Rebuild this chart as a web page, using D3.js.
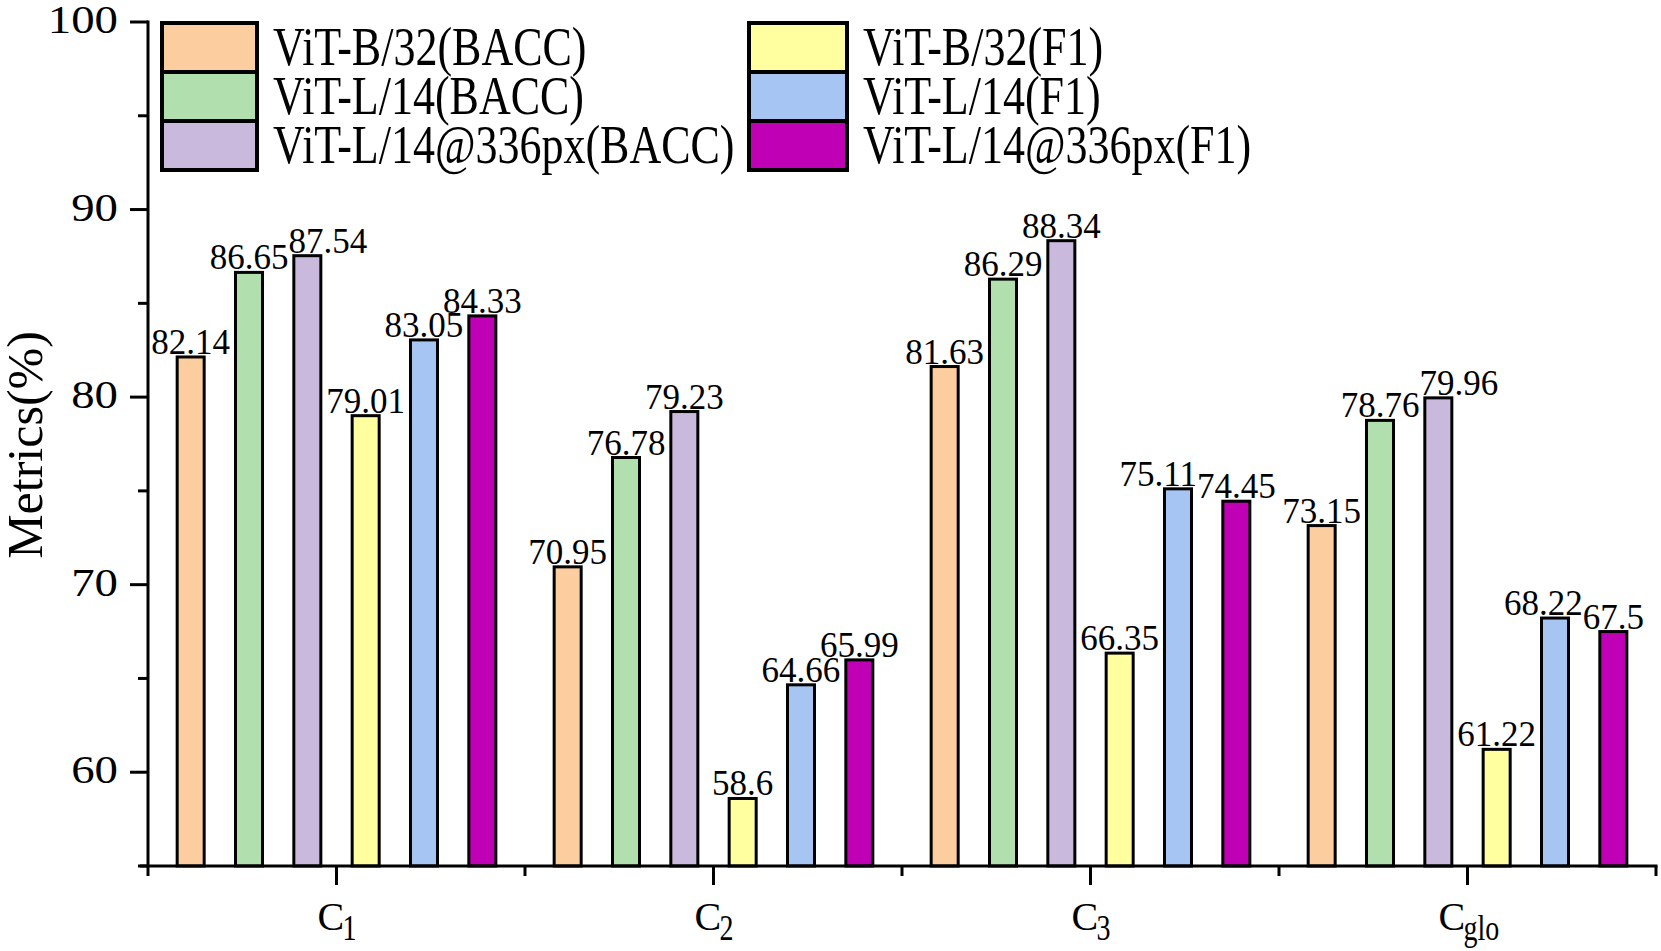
<!DOCTYPE html>
<html>
<head>
<meta charset="utf-8">
<script src="https://cdn.jsdelivr.net/npm/d3@7"></script>
<style>
  body { margin: 0; background: #fff; }
  svg { display: block; }
  text { font-family: "Liberation Serif", "Times New Roman", serif; fill: #000; }
</style>
</head>
<body>
<svg id="chart" width="1661" height="951"></svg>
<script>
var categories = ["C1", "C2", "C3", "Cglo"];
var catMain = ["C", "C", "C", "C"];
var catSub = ["1", "2", "3", "glo"];
var seriesNames = ["ViT-B/32(BACC)", "ViT-L/14(BACC)", "ViT-L/14@336px(BACC)",
                   "ViT-B/32(F1)", "ViT-L/14(F1)", "ViT-L/14@336px(F1)"];
var seriesColors = ["#fccd9f", "#b1e0ae", "#c9b9dc", "#ffffa0", "#a6c5f2", "#c000b5"];
var vitB32Bacc = [82.14, 70.95, 81.63, 73.15];
var vitL14Bacc = [86.65, 76.78, 86.29, 78.76];
var vitL14pxBacc = [87.54, 79.23, 88.34, 79.96];
var vitB32F1 = [79.01, 58.6, 66.35, 61.22];
var vitL14F1 = [83.05, 64.66, 75.11, 68.22];
var vitL14pxF1 = [84.33, 65.99, 74.45, 67.5];
var yTicks = [60, 70, 80, 90, 100];
var yMinorTicks = [55, 65, 75, 85, 95];

function draw() {
	var values = [vitB32Bacc, vitL14Bacc, vitL14pxBacc, vitB32F1, vitL14F1, vitL14pxF1];

	var svg = d3.select("#chart");
	var pLeft = 148, pRight = 1656, pTop = 22, pBottom = 866;

	var x0 = d3.scaleBand().domain(categories).range([pLeft, pRight]);
	var x1 = d3.scaleBand().domain(d3.range(seriesNames.length))
		.range([0, x0.bandwidth()])
		.paddingInner(0.537)
		.paddingOuter(0.5);
	var y = d3.scaleLinear().domain([55, 100]).range([pBottom, pTop]);

	// bars
	var rows = [];
	categories.forEach(function(c, ci) {
		values.forEach(function(s, si) {
			rows.push({cat: c, s: si, v: s[ci]});
		});
	});

	svg.append("g").selectAll("rect")
		.data(rows)
		.enter().append("rect")
		.attr("x", function(d) { return x0(d.cat) + x1(d.s); })
		.attr("y", function(d) { return y(d.v); })
		.attr("width", x1.bandwidth())
		.attr("height", function(d) { return pBottom - y(d.v); })
		.attr("fill", function(d) { return seriesColors[d.s]; })
		.attr("stroke", "#000")
		.attr("stroke-width", 3);

	var labels = svg.append("g").selectAll("text")
		.data(rows)
		.enter().append("text")
		.attr("x", function(d) { return x0(d.cat) + x1(d.s) + x1.bandwidth() / 2; })
		.attr("y", function(d) { return y(d.v) - 3; })
		.attr("text-anchor", "middle")
		.style("font-size", "35px")
		.text(function(d) { return d.v; });

	// nudge the higher of two neighbouring labels sideways when they collide
	labels.each(function(d) { d.w = this.getComputedTextLength(); d.cx = x0(d.cat) + x1(d.s) + x1.bandwidth() / 2; });
	for (var i = 0; i < rows.length - 1; i++) {
		var a = rows[i], b = rows[i + 1];
		if (a.cat !== b.cat) continue;
		if (Math.abs(y(a.v) - y(b.v)) >= 24) continue;
		var overlap = (a.cx + a.w / 2) - (b.cx - b.w / 2);
		if (overlap <= 0) continue;
		if (b.v > a.v) b.cx += overlap; else a.cx -= overlap;
	}
	labels.attr("x", function(d) { return d.cx; });

	// y axis
	var yAxis = svg.append("g");
	yAxis.append("line")
		.attr("x1", pLeft).attr("x2", pLeft)
		.attr("y1", pTop - 1.5).attr("y2", pBottom + 1.5)
		.attr("stroke", "#000").attr("stroke-width", 3);
	yAxis.selectAll(".major")
		.data(yTicks)
		.enter().append("line")
		.attr("x1", pLeft - 18).attr("x2", pLeft)
		.attr("y1", function(d) { return y(d); })
		.attr("y2", function(d) { return y(d); })
		.attr("stroke", "#000").attr("stroke-width", 3);
	yAxis.selectAll(".minor")
		.data(yMinorTicks)
		.enter().append("line")
		.attr("x1", pLeft - 10).attr("x2", pLeft)
		.attr("y1", function(d) { return y(d); })
		.attr("y2", function(d) { return y(d); })
		.attr("stroke", "#000").attr("stroke-width", 3);
	yAxis.selectAll("text")
		.data(yTicks)
		.enter().append("text")
		.attr("transform", function(d) { return "translate(118," + (y(d) + 11) + ") scale(1.2,1)"; })
		.attr("text-anchor", "end")
		.style("font-size", "39px")
		.text(function(d) { return d; });

	svg.append("text")
		.attr("transform", "translate(42,445) rotate(-90)")
		.attr("text-anchor", "middle")
		.style("font-size", "50px")
		.text("Metrics(%)");

	// x axis
	var xAxis = svg.append("g");
	xAxis.append("line")
		.attr("x1", pLeft - 8).attr("x2", pRight + 1.5)
		.attr("y1", pBottom).attr("y2", pBottom)
		.attr("stroke", "#000").attr("stroke-width", 3);
	xAxis.selectAll(".major")
		.data(categories)
		.enter().append("line")
		.attr("x1", function(d) { return x0(d) + x0.bandwidth() / 2; })
		.attr("x2", function(d) { return x0(d) + x0.bandwidth() / 2; })
		.attr("y1", pBottom).attr("y2", pBottom + 19)
		.attr("stroke", "#000").attr("stroke-width", 3);
	xAxis.selectAll(".minor")
		.data(categories.concat(["end"]))
		.enter().append("line")
		.attr("x1", function(d) { return d === "end" ? pRight : x0(d); })
		.attr("x2", function(d) { return d === "end" ? pRight : x0(d); })
		.attr("y1", pBottom).attr("y2", pBottom + 10)
		.attr("stroke", "#000").attr("stroke-width", 3);

	var xl = xAxis.selectAll(".xlab")
		.data(categories)
		.enter().append("g")
		.attr("transform", function(d) { return "translate(" + (x0(d) + x0.bandwidth() / 2) + ",930)"; });
	xl.append("text")
		.attr("x", function(d, i) { return catSub[i].length > 1 ? -29 : -19; })
		.style("font-size", "40px")
		.text(function(d, i) { return catMain[i]; });
	xl.append("text")
		.attr("transform", function(d, i) {
			return "translate(" + (catSub[i].length > 1 ? -4 : 6) + ",10) scale(1,1.3)";
		})
		.style("font-size", "28px")
		.text(function(d, i) { return catSub[i]; });

	// legend
	var legX = [162, 749], legW = [95, 98], legTextX = [273, 863];
	var legTop = 23, legRow = 49;
	var leg = svg.append("g");
	seriesNames.forEach(function(name, i) {
		var col = Math.floor(i / 3), row = i % 3;
		leg.append("rect")
			.attr("x", legX[col])
			.attr("y", legTop + row * legRow)
			.attr("width", legW[col])
			.attr("height", legRow)
			.attr("fill", seriesColors[i])
			.attr("stroke", "#000")
			.attr("stroke-width", 4);
		leg.append("text")
			.attr("transform", "translate(" + legTextX[col] + "," + (legTop + row * legRow + 42) + ") scale(1,1.25)")
			.style("font-size", "44px")
			.text(name);
	});
}

draw();
</script>
</body>
</html>
